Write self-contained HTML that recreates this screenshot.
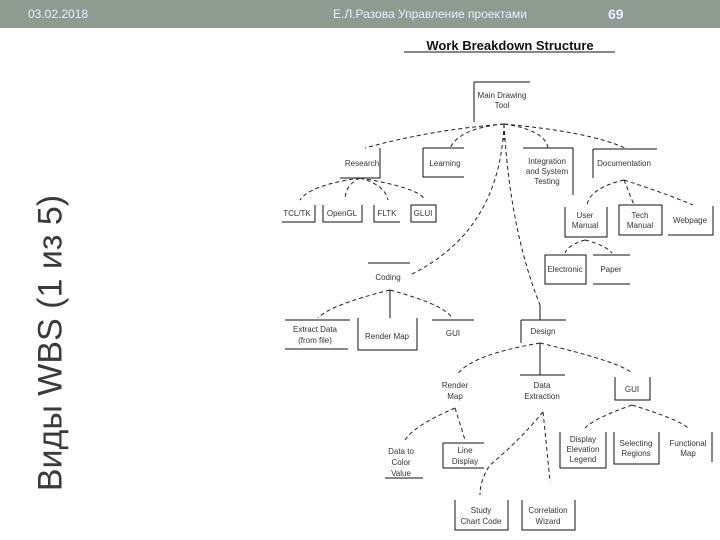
<!DOCTYPE html>
<html><head><meta charset="utf-8"><style>
body{margin:0;width:720px;height:540px;background:#fff;overflow:hidden;position:relative;font-family:"Liberation Sans",sans-serif}
.bar{position:absolute;left:0;top:0;width:720px;height:28px;background:#8d9b90}
.bar span{position:absolute;top:7px;color:#eef;font-size:12px}
.side{position:absolute;left:51px;top:343px;transform:translate(-50%,-50%) rotate(-90deg);white-space:nowrap;font-size:34px;color:#3a3a3a}
svg{position:absolute;left:0;top:0}
svg text{font-family:"Liberation Sans",sans-serif;font-size:8px;fill:#333;text-anchor:middle}
</style></head><body>
<div class="bar"><span style="left:28px">03.02.2018</span><span style="left:333px">Е.Л.Разова Управление проектами</span><span style="left:608px;font-weight:bold;font-size:14px;top:6px">69</span></div>
<div class="side">Виды WBS (1 из 5)</div>
<svg width="720" height="540" stroke="#222" fill="none" stroke-width="1">
<text x="510" y="50" style="font-size:13px;font-weight:bold;fill:#111;stroke:none">Work Breakdown Structure</text>
<line x1="404" y1="52" x2="615" y2="52" stroke="#111"/>
<g stroke="#111">
<path d="M474 82H530M474 82V122"/>
<path d="M380 148V178H340"/>
<path d="M423 148H464M423 148V177H464"/>
<path d="M523 148H573V195"/>
<path d="M593 149H657M593 149V178"/>
<path d="M282 222H315V205"/>
<path d="M323 205V222H362V205"/>
<path d="M374 205V222H400"/>
<rect x="411" y="205" width="25" height="17"/>
<path d="M565 207V237H607V207"/>
<rect x="619" y="205" width="43" height="30"/>
<path d="M668 235H713V206"/>
<rect x="545" y="255" width="41" height="29"/>
<path d="M593 255H630M593 284H630"/>
<path d="M368 263H410"/>
<path d="M390 290V318M358 318V350H417V318"/>
<path d="M285 320H350M285 349H348"/>
<path d="M432 320H474"/>
<path d="M540 305V320M521 320H566M521 320V343"/>
<path d="M540 343V375M520 375H565"/>
<path d="M615 377V400H650V377"/>
<path d="M385 478H423"/>
<path d="M443 468V443H484M443 468H484"/>
<path d="M455 500V530H508V500"/>
<path d="M522 500V530H575V500"/>
<path d="M560 432V468H606V432"/>
<path d="M614 432V464H659V432"/>
<path d="M712 432V462"/>
</g>
<g stroke-dasharray="4,3" stroke="#222">
<path d="M504 124Q430 130 365 148"/>
<path d="M504 124Q460 128 450 148"/>
<path d="M504 124Q545 130 548 148"/>
<path d="M504 124Q590 132 625 148"/>
<path d="M504 124Q500 230 412 274"/>
<path d="M504 124Q510 230 540 305"/>
<path d="M504 124V140"/>
<path d="M360 178Q310 185 300 200"/>
<path d="M360 178Q345 185 345 200"/>
<path d="M360 178Q385 185 388 200"/>
<path d="M360 178Q420 188 425 200"/>
<path d="M624 180Q590 188 587 205"/>
<path d="M624 180Q628 190 634 205"/>
<path d="M624 180Q670 195 693 205"/>
<path d="M585 240Q568 245 565 253"/>
<path d="M585 240Q605 245 612 253"/>
<path d="M390 290Q330 305 318 318"/>
<path d="M390 290Q445 305 452 318"/>
<path d="M540 343Q470 355 457 375"/>
<path d="M540 343Q620 362 632 373"/>
<path d="M455 408Q415 425 405 440"/>
<path d="M455 408Q462 430 465 440"/>
<path d="M543 412Q520 440 490 465Q480 480 480 495"/>
<path d="M543 412Q548 460 550 482"/>
<path d="M632 405Q595 418 585 428"/>
<path d="M632 405Q680 420 688 428"/>
</g>
<g stroke="none">
<text x="502" y="98">Main Drawing</text><text x="502" y="108">Tool</text>
<text x="362" y="166">Research</text>
<text x="445" y="166">Learning</text>
<text x="547" y="164">Integration</text><text x="547" y="174">and System</text><text x="547" y="184">Testing</text>
<text x="624" y="166">Documentation</text>
<text x="297" y="216">TCL/TK</text><text x="342" y="216">OpenGL</text><text x="387" y="216">FLTK</text><text x="423" y="216">GLUI</text>
<text x="585" y="218">User</text><text x="585" y="228">Manual</text>
<text x="640" y="218">Tech</text><text x="640" y="228">Manual</text>
<text x="690" y="223">Webpage</text>
<text x="565" y="272">Electronic</text><text x="611" y="272">Paper</text>
<text x="388" y="280">Coding</text>
<text x="315" y="332">Extract Data</text><text x="315" y="343">(from file)</text>
<text x="387" y="339">Render Map</text><text x="453" y="336">GUI</text>
<text x="543" y="334">Design</text>
<text x="455" y="388">Render</text><text x="455" y="399">Map</text>
<text x="542" y="388">Data</text><text x="542" y="399">Extraction</text>
<text x="632" y="392">GUI</text>
<text x="401" y="454">Data to</text><text x="401" y="465">Color</text><text x="401" y="476">Value</text>
<text x="465" y="453">Line</text><text x="465" y="464">Display</text>
<text x="583" y="442">Display</text><text x="583" y="452">Elevation</text><text x="583" y="462">Legend</text>
<text x="636" y="446">Selecting</text><text x="636" y="456">Regions</text>
<text x="688" y="446">Functional</text><text x="688" y="456">Map</text>
<text x="481" y="513">Study</text><text x="481" y="524">Chart Code</text>
<text x="548" y="513">Correlation</text><text x="548" y="524">Wizard</text>
</g>
</svg>
</body></html>
